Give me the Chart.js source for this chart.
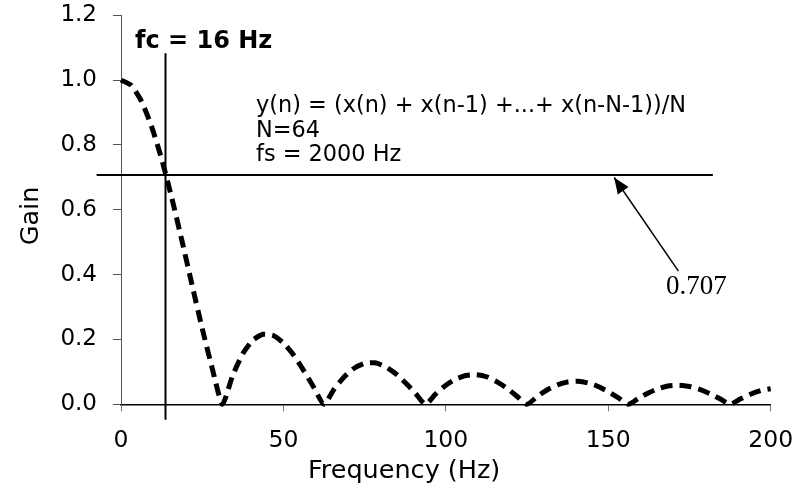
<!DOCTYPE html>
<html><head><meta charset="utf-8">
<script src="https://cdn.jsdelivr.net/npm/chart.js@4.4.0/dist/chart.umd.min.js"></script>
<style>html,body{margin:0;padding:0;background:#fff}#wrap{width:803px;height:489px;position:relative}</style>
</head><body><div id="wrap"><canvas id="c"></canvas></div>
<script>
// ---- data ----
const frequencies = [0, 3.125, 6.25, 9.375, 12.5, 15.625, 18.75, 21.875, 25, 28.125, 31.25, 34.375, 37.5, 40.625, 43.75, 46.875, 50, 53.125, 56.25, 59.375, 62.5, 65.625, 68.75, 71.875, 75, 78.125, 81.25, 84.375, 87.5, 90.625, 93.75, 96.875, 100, 103.125, 106.25, 109.375, 112.5, 115.625, 118.75, 121.875, 125, 128.125, 131.25, 134.375, 137.5, 140.625, 143.75, 146.875, 150, 153.125, 156.25, 159.375, 162.5, 165.625, 168.75, 171.875, 175, 178.125, 181.25, 184.375, 187.5, 190.625, 193.75, 196.875, 200];
const gains = [1.000, 0.984, 0.936, 0.858, 0.757, 0.637, 0.505, 0.368, 0.234, 0.109, 0.000, 0.089, 0.156, 0.198, 0.216, 0.212, 0.189, 0.152, 0.104, 0.052, 0.000, 0.047, 0.085, 0.112, 0.126, 0.128, 0.117, 0.096, 0.067, 0.034, 0.000, 0.032, 0.059, 0.078, 0.089, 0.091, 0.085, 0.070, 0.050, 0.025, 0.000, 0.024, 0.045, 0.060, 0.069, 0.071, 0.066, 0.055, 0.039, 0.020, 0.000, 0.019, 0.036, 0.049, 0.057, 0.059, 0.055, 0.046, 0.033, 0.017, 0.000, 0.016, 0.031, 0.042, 0.048];
const xTickValues = [0, 50, 100, 150, 200];
const yTickValues = [0, 0.2, 0.4, 0.6, 0.8, 1.0, 1.2];
const cutoffLineX = [13.7, 13.7];
const cutoffLineY = [1.083, -0.048];
const halfPowerLineX = [-7.5, 182.2];
const halfPowerLineY = [0.707, 0.707];
const arrowX = [171.6, 151.8];
const arrowY = [0.411, 0.6995];
const xTitle = 'Frequency (Hz)';
const yTitle = 'Gain';
const cutoffLabel = 'fc = 16 Hz';
const formulaLines = ['y(n) = (x(n) + x(n-1) +...+ x(n-N-1))/N', 'N=64', 'fs = 2000 Hz'];
const arrowLabel = '0.707';

const SANS = '"DejaVu Sans", sans-serif';

const curvePts = frequencies.map((f, i) => ({x: f, y: gains[i]}));
const pairPts = (xs, ys) => xs.map((x, i) => ({x: x, y: ys[i]}));

const annotPlugin = {
  id: 'annot',
  afterDatasetsDraw(chart) {
    const ctx = chart.ctx;
    const xs = chart.scales.x, ys = chart.scales.y;
    ctx.save();
    // arrow head
    const x0 = xs.getPixelForValue(arrowX[0]), y0 = ys.getPixelForValue(arrowY[0]);
    const x1 = xs.getPixelForValue(arrowX[1]), y1 = ys.getPixelForValue(arrowY[1]);
    const ang = Math.atan2(y1 - y0, x1 - x0);
    const L = 16, W = 6.5;
    ctx.fillStyle = '#000';
    ctx.beginPath();
    ctx.moveTo(x1, y1);
    ctx.lineTo(x1 - L * Math.cos(ang) + W * Math.sin(ang), y1 - L * Math.sin(ang) - W * Math.cos(ang));
    ctx.lineTo(x1 - L * Math.cos(ang) - W * Math.sin(ang), y1 - L * Math.sin(ang) + W * Math.cos(ang));
    ctx.closePath();
    ctx.fill();
    // texts
    ctx.fillStyle = '#000';
    ctx.textBaseline = 'alphabetic';
    ctx.textAlign = 'left';
    ctx.font = 'bold 24px ' + SANS;
    ctx.fillText(cutoffLabel, 135, 47.5);
    ctx.font = '22.4px ' + SANS;
    const bases = [112, 136.5, 160.5];
    formulaLines.forEach((t, i) => ctx.fillText(t, 256, bases[i]));
    ctx.font = '27px "Liberation Serif", "Times New Roman", serif';
    ctx.fillText(arrowLabel, 666, 293.5);
    ctx.font = '25.5px ' + SANS;
    ctx.fillText(xTitle, 308, 478);
    ctx.save();
    ctx.translate(38, 216);
    ctx.rotate(-Math.PI / 2);
    ctx.textAlign = 'center';
    ctx.fillText(yTitle, 0, 0);
    ctx.restore();
    ctx.restore();
  }
};

new Chart(document.getElementById('c'), {
  type: 'scatter',
  data: {
    datasets: [
      {data: curvePts, showLine: true, borderColor: '#000', borderWidth: 5, borderDash: [12, 7], tension: 0.2, pointRadius: 0, clip: false},
      {data: pairPts(cutoffLineX, cutoffLineY), showLine: true, borderColor: '#000', borderWidth: 2, pointRadius: 0, clip: false},
      {data: pairPts(halfPowerLineX, halfPowerLineY), showLine: true, borderColor: '#000', borderWidth: 2, pointRadius: 0, clip: false},
      {data: pairPts(arrowX, arrowY), showLine: true, borderColor: '#000', borderWidth: 1.5, pointRadius: 0, clip: false}
    ]
  },
  options: {
    responsive: true,
    maintainAspectRatio: false,
    animation: false,
    events: [],
    layout: {padding: {left: 0, right: 32.3, top: 15.3, bottom: 0}},
    plugins: {legend: {display: false}, tooltip: {enabled: false}, title: {display: false}},
    scales: {
      x: {
        type: 'linear', min: 0, max: 200,
        afterBuildTicks: s => { s.ticks = xTickValues.map(v => ({value: v})); },
        afterFit: s => { s.height = 489 - 404.3; s.paddingLeft = 0; s.paddingRight = 0; },
        border: {display: true, color: '#000', width: 1.5},
        grid: {display: true, drawOnChartArea: false, drawTicks: true, tickLength: 7, color: '#777'},
        ticks: {color: '#000', font: {family: SANS, size: 23.5}, padding: 15, maxRotation: 0, autoSkip: false, callback: v => String(v)}
      },
      y: {
        type: 'linear', min: 0, max: 1.2,
        afterBuildTicks: s => { s.ticks = yTickValues.map(v => ({value: v})); },
        afterFit: s => { s.width = 121; s.paddingTop = 0; s.paddingBottom = 0; },
        border: {display: true, color: '#555', width: 1},
        grid: {display: true, drawOnChartArea: false, drawTicks: true, tickLength: 8, color: '#555'},
        ticks: {color: '#000', font: {family: SANS, size: 23}, padding: 16, autoSkip: false, callback: v => v.toFixed(1)}
      }
    }
  },
  plugins: [annotPlugin]
});
</script></body></html>
